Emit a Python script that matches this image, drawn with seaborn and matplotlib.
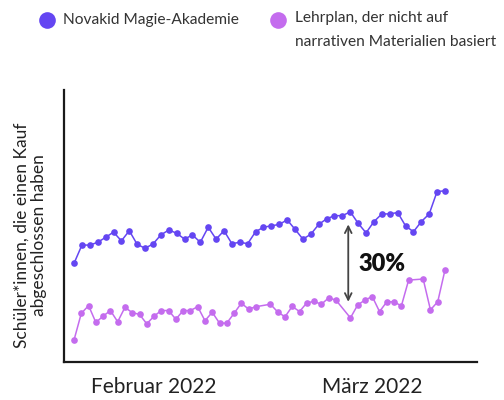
import numpy as np
import pandas as pd
import matplotlib
matplotlib.use('Agg')
import matplotlib.pyplot as plt
from matplotlib.lines import Line2D
import seaborn as sns

# Daten (Werte in %)
novakid_werte = [28.2, 33.4, 33.4, 34.2, 35.6, 37.1, 34.6, 37.5, 33.6, 32.5,
                 33.7, 36.3, 37.7, 36.8, 35.1, 36.3, 34.2, 38.5, 35.1, 37.5,
                 33.8, 34.2, 33.8, 37.2, 38.5, 38.9, 39.3, 40.6, 37.9, 35.1,
                 36.5, 39.3, 40.9, 41.8, 41.8, 42.9, 39.6, 36.9, 40.1, 42.3,
                 42.3, 42.7, 38.9, 37.2, 40.1, 42.3, 48.7, 48.9]

lehrplan_tage = list(range(0, 26)) + list(range(27, 37)) + list(range(38, 47)) + list(range(48, 52))
lehrplan_werte = [6.3, 13.9, 16.1, 11.3, 13.1, 14.7, 11.5, 15.6, 14.1, 13.6,
                  10.9, 13.1, 14.7, 14.7, 12.2, 14.7, 14.7, 15.8, 11.8, 14.2,
                  11.1, 11.1, 13.9, 16.8, 15.1, 15.8,
                  16.5, 14.3, 12.9, 15.9, 14.4, 16.9, 17.3, 16.5, 18.3, 17.7,
                  12.6, 16.3, 17.7, 18.7, 14.4, 17.2, 17.2, 16.0, 23.4,
                  23.7, 14.9, 17.2, 26.3]

tick_tage = [11, 41]
tick_labels = ['Februar 2022', 'März 2022']

namen = ['Novakid Magie-Akademie', 'Lehrplan, der nicht auf\nnarrativen Materialien basiert']
farben = ['#6446F2', '#C46CEE']

df_nova = pd.DataFrame({'tag': np.linspace(0, 51, len(novakid_werte)), 'wert': novakid_werte})
df_lehr = pd.DataFrame({'tag': lehrplan_tage, 'wert': lehrplan_werte})

sns.set_style('white')
plt.rcParams['font.family'] = ['Lato', 'DejaVu Sans']

fig = plt.figure(figsize=(5.04, 4), dpi=100)
ax = fig.add_axes([64 / 504, 38 / 400, 413 / 504, 272 / 400])

sns.lineplot(data=df_nova, x='tag', y='wert', ax=ax, color=farben[0], marker='o',
             markersize=4.8, markeredgewidth=0, linewidth=1.1)
sns.lineplot(data=df_lehr, x='tag', y='wert', ax=ax, color=farben[1], marker='o',
             markersize=4.8, markeredgewidth=0, linewidth=1.1)

ax.set_xlim(-1.38, 55.4)
ax.set_ylim(0, 77.7)
ax.set_xticks(tick_tage)
ax.set_xticklabels(tick_labels, fontsize=15, color='#222222')
ax.set_yticks([])
ax.tick_params(axis='x', length=0, pad=11)
ax.set_xlabel('')
ax.set_ylabel('')
sns.despine(ax=ax)
for s in ['left', 'bottom']:
    ax.spines[s].set_color('#1a1a1a')
    ax.spines[s].set_linewidth(1.6)

# Abstand-Pfeil und Beschriftung
ax.annotate('', xy=(37.7, 39.3), xytext=(37.7, 17.2),
            arrowprops=dict(arrowstyle='<->', color='#444444', lw=1.3, mutation_scale=12,
                            shrinkA=0, shrinkB=0))
ax.text(39.1, 28, '30%', fontsize=17, fontweight='heavy', color='#111111', ha='left', va='center')

# Achsenbeschriftung
fig.text(30 / 504, 1 - 235 / 400, 'Schüler*innen, die einen Kauf\nabgeschlossen haben',
         rotation=90, ha='center', va='center', multialignment='center', fontsize=12.5,
         color='#222222', linespacing=1.1)

# Legende oben
fig.add_artist(Line2D([47 / 504], [1 - 20 / 400], marker='o', markersize=12, color=farben[0],
                      markeredgewidth=0, transform=fig.transFigure))
fig.add_artist(Line2D([278 / 504], [1 - 20 / 400], marker='o', markersize=12, color=farben[1],
                      markeredgewidth=0, transform=fig.transFigure))
fig.text(63 / 504, 1 - 20 / 400, namen[0], fontsize=11.2, color='#333333', va='center')
fig.text(295 / 504, 1 - 11 / 400, namen[1], fontsize=11.2, color='#333333', va='top', linespacing=1.95)

fig.savefig('out.png', dpi=100)
